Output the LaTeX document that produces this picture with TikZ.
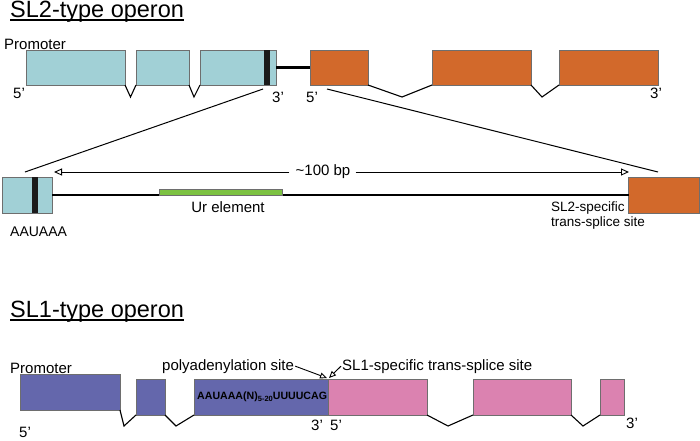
\documentclass[tikz,border=0pt]{standalone}
\usepackage{fontspec}
\setmainfont{Liberation Sans}
\usetikzlibrary{arrows.meta,calc}
\definecolor{cy}{HTML}{A1D0D6}
\definecolor{orng}{HTML}{D2692B}
\definecolor{grn}{HTML}{7CC242}
\definecolor{blu}{HTML}{6467AC}
\definecolor{pnk}{HTML}{DB82B0}
\definecolor{exb}{HTML}{6E6E6E}
\definecolor{barc}{HTML}{1A1A1A}
\begin{document}
\begin{tikzpicture}[x=1pt,y=-1pt,
  exon/.style={draw=exb, line width=0.7pt, inner sep=0pt, outer sep=0pt, anchor=north west, minimum height=35pt},
  polybar/.style={fill=barc, inner sep=0pt, outer sep=0pt, anchor=north west, minimum width=6pt},
  lab/.style={font=\fontsize{15}{17}\selectfont, inner sep=0pt},
  slab/.style={font=\fontsize{13.5}{15}\selectfont, inner sep=0pt},
  ttl/.style={font=\fontsize{23.5}{27}\selectfont, inner sep=0pt, anchor=base west},
  intron/.style={line width=1.1pt, line join=miter},
  zoomline/.style={line width=1pt},
  spacer/.style={line width=2.4pt},
  tip/.style={-{Triangle[open,length=8pt,width=7pt]}, line width=0.9pt},
  smalltip/.style={-{Triangle[open,length=7pt,width=6pt]}, line width=0.9pt},
]
\fill[white] (0,0) rectangle (700,440);
\useasboundingbox (0,0) rectangle (700,440);

% ---------- SL2-type operon ----------
\node[ttl] (t2) at (10,17.5) {SL2-type operon};
\draw[line width=1.3pt] ([yshift=-2.5pt]t2.base west) -- ([yshift=-2.5pt]t2.base east);

\node[lab, anchor=base west] (prom2) at (4,49) {Promoter};

\node[exon, fill=cy, minimum width=99pt] (e1) at (26,50) {};
\node[exon, fill=cy, minimum width=53pt] (e2) at (136,50) {};
\node[exon, fill=cy, minimum width=76pt] (e3) at (200,50) {};
\node[polybar, minimum height=35pt] (b1) at (264,50) {};
\node[exon, fill=orng, minimum width=58pt] (o1) at (310,50) {};
\node[exon, fill=orng, minimum width=99pt] (o2) at (432,50) {};
\node[exon, fill=orng, minimum width=99pt] (o3) at (559,50) {};

\draw[spacer] (e3.east) -- (o1.west);

\coordinate (v1) at (130.5,97);
\coordinate (v2) at (194,97);
\coordinate (v3) at (402,97);
\coordinate (v4) at (542,97);
\draw[intron] (e1.south east) -- (v1) -- (e2.south west);
\draw[intron] (e2.south east) -- (v2) -- (e3.south west);
\draw[intron] (o1.south east) -- (v3) -- (o2.south west);
\draw[intron] (o2.south east) -- (v4) -- (o3.south west);

\node[lab] (f5a) at (19,93) {5'};
\node[lab] (f3a) at (278,97) {3'};
\node[lab] (f5b) at (312,97) {5'};
\node[lab] (f3b) at (656,93) {3'};

% zoom lines
\coordinate (za) at (263,89);
\coordinate (zb) at (25,172);
\coordinate (zc) at (327,89);
\coordinate (zd) at (658,172);
\draw[zoomline] (za) -- (zb);
\draw[zoomline] (zc) -- (zd);

% ---------- enlarged intercistronic region ----------
\node[exon, fill=cy, minimum width=50pt, minimum height=36pt] (c1) at (2,177) {};
\node[polybar, minimum height=36pt] (b2) at (32,177) {};
\node[exon, fill=orng, minimum width=71pt, minimum height=36pt] (c2) at (628.5,177) {};
\draw[spacer] (c1.east) -- (c2.west);
\node[draw=exb, line width=0.5pt, fill=grn, inner sep=0pt, outer sep=0pt, anchor=north west,
      minimum width=123pt, minimum height=6pt] (ur) at (159,189) {};

\node[lab, anchor=base] (urlab) at (228,212) {Ur element};
\node[font=\fontsize{14}{15}\selectfont, inner sep=0pt, anchor=base west] (aau) at (10,236) {AAUAAA};
\node[slab, anchor=north west, align=left] (sl2site) at (551,202)
  {SL2-specific\\trans-splice site};

\node[lab] (bp) at (323,172) {\textasciitilde 100 bp};
\coordinate (al) at (54,172);
\coordinate (ar) at (629,172);
\draw[tip] ([xshift=-6pt]bp.west) -- (al);
\draw[tip] ([xshift=5pt]bp.east) -- (ar);

% ---------- SL1-type operon ----------
\node[ttl] (t1) at (10,317.5) {SL1-type operon};
\draw[line width=1.3pt] ([yshift=-2.5pt]t1.base west) -- ([yshift=-2.5pt]t1.base east);

\node[lab, anchor=base west] (prom1) at (10,373) {Promoter};

\node[exon, fill=blu, minimum width=100pt, minimum height=36pt] (p1) at (20,374) {};
\node[exon, fill=blu, minimum width=29pt, minimum height=36pt] (p2) at (136,379) {};
\node[exon, fill=blu, minimum width=134pt, minimum height=36pt] (p3) at (194,379) {};
\node[exon, fill=pnk, minimum width=99pt, minimum height=36pt] (k1) at (328,379) {};
\node[exon, fill=pnk, minimum width=98pt, minimum height=36pt] (k2) at (473,379) {};
\node[exon, fill=pnk, minimum width=24pt, minimum height=36pt] (k3) at (600,379) {};

\coordinate (w1) at (124,426);
\coordinate (w2) at (176,426);
\coordinate (w3) at (448,426);
\coordinate (w4) at (583,426);
\draw[intron] (p1.south east) -- (w1) -- (p2.south west);
\draw[intron] (p2.south east) -- (w2) -- (p3.south west);
\draw[intron] (k1.south east) -- (w3) -- (k2.south west);
\draw[intron] (k2.south east) -- (w4) -- (k3.south west);

\node[font=\bfseries\fontsize{10.6}{12}\selectfont, inner sep=0pt, anchor=west] (seq) at (197,397)
  {AAUAAA(N)\raisebox{-0.35ex}{\fontsize{7.5}{8}\selectfont 5-20}UUUUCAG};

\node[lab] (g5) at (25,432) {5'};
\node[lab] (g3) at (317,425) {3'};
\node[lab] (g5b) at (336,425) {5'};
\node[lab] (g3b) at (632,423) {3'};

\node[lab, anchor=base west] (poly) at (162,370) {polyadenylation site};
\node[lab, anchor=base west] (sl1) at (342,370) {SL1-specific trans-splice site};
\coordinate (pt) at (327,378);
\coordinate (st) at (329,378);
\draw[smalltip] ([xshift=1pt]poly.east) -- (pt);
\draw[smalltip] ([xshift=-1pt]sl1.west) -- (st);
\end{tikzpicture}
\end{document}
